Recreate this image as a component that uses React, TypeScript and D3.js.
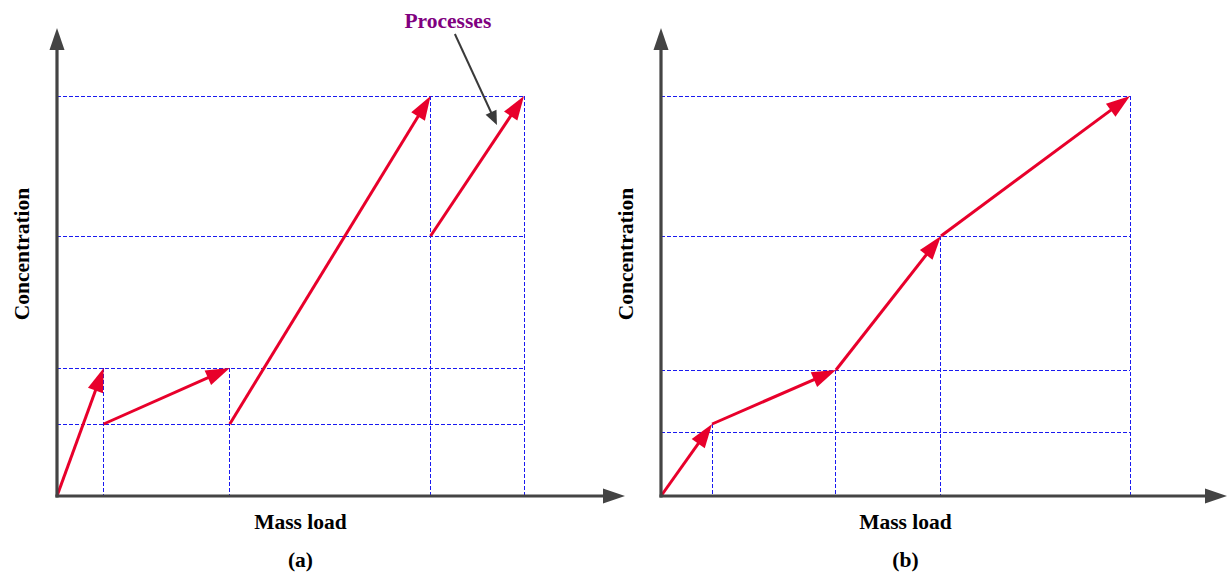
import React from "react";
import * as d3 from "d3";

// ---------- Data ----------
// Panel (a): separate processes (start -> end) in [mass load, concentration]
const procAStartMass = [0, 1, 3.7, 8];
const procAStartConc = [0, 18, 18, 65];
const procAEndMass = [1, 3.7, 8, 10];
const procAEndConc = [32, 32, 100, 100];
// Panel (a) guide lines
const gridAConc = [18, 32, 65, 100];
const gridAMass = [1, 3.7, 8, 10];
const gridAMassTop = [32, 32, 100, 100];

// Panel (b): composite curve
const curveBMass = [0, 1.09, 3.73, 5.97, 10];
const curveBConc = [0, 18, 31.5, 65, 100];
// Panel (b) guide lines
const gridBConc = [16, 31.5, 65, 100];
const gridBMass = [1.09, 3.73, 5.97, 10];
const gridBMassTop = [18, 31.5, 65, 100];

const xLabel = "Mass load";
const yLabel = "Concentration";
const panelLabels = ["(a)", "(b)"];
const calloutText = "Processes";
const calloutFrom = [8.52, 115.5];
const calloutTo = [9.42, 92.75];

const W = 1227;
const H = 572;
const RED = "#e8002b";
const AXIS = "#444444";
const GRID = "#1a1af0";
const FONT = "'Liberation Serif', 'Times New Roman', serif";
const FS = 21.5;

function arrowHead(x1: number, y1: number, x2: number, y2: number, len: number, half: number) {
  const a = Math.atan2(y2 - y1, x2 - x1);
  const bx = x2 - len * Math.cos(a);
  const by = y2 - len * Math.sin(a);
  const px = -Math.sin(a) * half;
  const py = Math.cos(a) * half;
  return `${x2},${y2} ${bx + px},${by + py} ${bx - px},${by - py}`;
}

function shorten(x1: number, y1: number, x2: number, y2: number, d: number) {
  const a = Math.atan2(y2 - y1, x2 - x1);
  return [x2 - d * Math.cos(a), y2 - d * Math.sin(a)];
}

type PanelProps = {
  x0: number;
  x10: number;
  axisEnd: number;
  label: string;
  children: (x: d3.ScaleLinear<number, number>, y: d3.ScaleLinear<number, number>) => React.ReactNode;
};

function Panel({ x0, x10, axisEnd, label, children }: PanelProps) {
  const x = d3.scaleLinear().domain([0, 10]).range([x0, x10]);
  const y = d3.scaleLinear().domain([0, 100]).range([496, 96]);
  const ox = x(0);
  const oy = y(0);
  const yTop = 28;
  const cx = (x0 + x10) / 2 + 10;
  return (
    <g>
      {children(x, y)}
      {/* axes */}
      <line x1={ox} y1={oy + 1.5} x2={ox} y2={yTop + 20} stroke={AXIS} strokeWidth={3.2} />
      <polygon points={arrowHead(ox, oy, ox, yTop, 22, 7.5)} fill={AXIS} />
      <line x1={ox - 1.5} y1={oy} x2={axisEnd - 20} y2={oy} stroke={AXIS} strokeWidth={3.2} />
      <polygon points={arrowHead(ox, oy, axisEnd, oy, 22, 7.5)} fill={AXIS} />
      <text x={cx} y={529} textAnchor="middle" fontFamily={FONT} fontWeight="bold" fontSize={FS}>
        {xLabel}
      </text>
      <text x={cx} y={567} textAnchor="middle" fontFamily={FONT} fontWeight="bold" fontSize={FS}>
        {label}
      </text>
      <text
        transform={`translate(${ox - 28.5},${254}) rotate(-90)`}
        textAnchor="middle"
        fontFamily={FONT}
        fontWeight="bold"
        fontSize={FS}
      >
        {yLabel}
      </text>
    </g>
  );
}

function RedArrow({ x1, y1, x2, y2 }: { x1: number; y1: number; x2: number; y2: number }) {
  const [ex, ey] = shorten(x1, y1, x2, y2, 12);
  return (
    <g>
      <line x1={x1} y1={y1} x2={ex} y2={ey} stroke={RED} strokeWidth={3} />
      <polygon points={arrowHead(x1, y1, x2, y2, 24, 8)} fill={RED} />
    </g>
  );
}

const gridProps = { stroke: GRID, strokeWidth: 1, strokeDasharray: "4,2", shapeRendering: "crispEdges" as const };

export default function App() {
  return (
    <svg width={W} height={H} style={{ position: "absolute", left: 0, top: 0, background: "#fff" }}>
      <rect width={W} height={H} fill="#fff" />
      {/* Panel (a) */}
      <Panel x0={57} x10={524} axisEnd={625} label={panelLabels[0]}>
        {(x, y) => (
          <g>
            {gridAConc.map((c, i) => (
              <line key={"ha" + i} x1={x(0)} x2={x(10)} y1={y(c)} y2={y(c)} {...gridProps} />
            ))}
            {gridAMass.map((m, i) => (
              <line key={"va" + i} x1={x(m)} x2={x(m)} y1={y(gridAMassTop[i])} y2={y(0)} {...gridProps} />
            ))}
            {procAStartMass.map((m, i) => (
              <RedArrow key={"pa" + i} x1={x(m)} y1={y(procAStartConc[i])} x2={x(procAEndMass[i])} y2={y(procAEndConc[i])} />
            ))}
            {(() => {
              const fx = x(calloutFrom[0]);
              const fy = y(calloutFrom[1]);
              const tx = x(calloutTo[0]);
              const ty = y(calloutTo[1]);
              const [ex, ey] = shorten(fx, fy, tx, ty, 8);
              return (
                <g>
                  <line x1={fx} y1={fy} x2={ex} y2={ey} stroke="#3a3a3a" strokeWidth={2} />
                  <polygon points={arrowHead(fx, fy, tx, ty, 14, 6)} fill="#3a3a3a" />
                  <text x={fx - 7} y={fy - 6} textAnchor="middle" fontFamily={FONT} fontWeight="bold" fontSize={FS} fill="#800080">
                    {calloutText}
                  </text>
                </g>
              );
            })()}
          </g>
        )}
      </Panel>
      {/* Panel (b) */}
      <Panel x0={661} x10={1130} axisEnd={1227} label={panelLabels[1]}>
        {(x, y) => (
          <g>
            {gridBConc.map((c, i) => (
              <line key={"hb" + i} x1={x(0)} x2={x(10)} y1={y(c)} y2={y(c)} {...gridProps} />
            ))}
            {gridBMass.map((m, i) => (
              <line key={"vb" + i} x1={x(m)} x2={x(m)} y1={y(gridBMassTop[i])} y2={y(0)} {...gridProps} />
            ))}
            {curveBMass.slice(1).map((m, i) => (
              <RedArrow key={"pb" + i} x1={x(curveBMass[i])} y1={y(curveBConc[i])} x2={x(m)} y2={y(curveBConc[i + 1])} />
            ))}
          </g>
        )}
      </Panel>
    </svg>
  );
}
